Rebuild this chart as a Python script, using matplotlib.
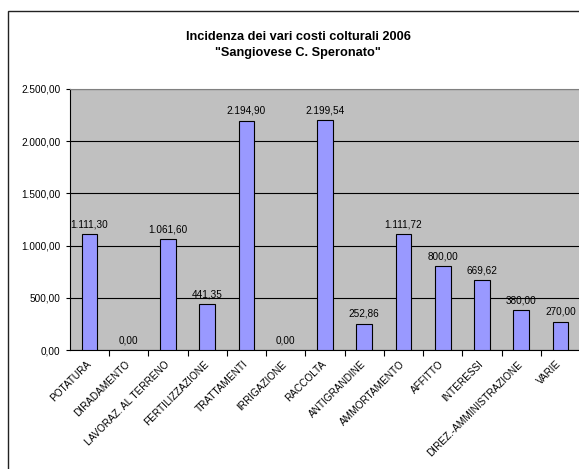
"""Incidenza dei vari costi colturali 2006 - istogramma (matplotlib)"""

import matplotlib

matplotlib.use("Agg")
import matplotlib.pyplot as plt  # noqa: E402
from matplotlib.patches import Rectangle  # noqa: E402

plt.rcParams["font.family"] = ["Liberation Sans", "DejaVu Sans"]

categories = [
    "POTATURA", "DIRADAMENTO", "LAVORAZ. AL TERRENO", "FERTILIZZAZIONE",
    "TRATTAMENTI", "IRRIGAZIONE", "RACCOLTA", "ANTIGRANDINE",
    "AMMORTAMENTO", "AFFITTO", "INTERESSI", "DIREZ.-AMMINISTRAZIONE", "VARIE",
]
costs = [
    1111.30, 0.00, 1061.60, 441.35, 2194.90, 0.00, 2199.54,
    252.86, 1111.72, 800.00, 669.62, 380.00, 270.00,
]
y_ticks = [0, 500, 1000, 1500, 2000, 2500]


def fmt_it(v):
    # 1111.3 -> "1.111,30"
    s = f"{v:,.2f}"
    return s.replace(",", "X").replace(".", ",").replace("X", ".")


fig = plt.figure(figsize=(5.79, 4.69), dpi=100)
ax = fig.add_axes([70 / 579, 1 - 350 / 469, 510 / 579, 261 / 469])

# cornice esterna (tagliata a destra e in basso come nell'originale)
fig.patches.append(Rectangle((8 / 579, -0.1), 1.2, 1.1 - 11 / 469,
                             transform=fig.transFigure, fill=False,
                             edgecolor="#222222", linewidth=1.0))

ax.set_facecolor("#C0C0C0")
x = range(len(categories))
ax.bar(x, costs, width=0.4, color="#9999FF", edgecolor="black", linewidth=0.8,
       zorder=3)

for xi, v in zip(x, costs):
    ax.annotate(fmt_it(v), (xi, v), xytext=(0, 3.5), textcoords="offset points",
                ha="center", va="bottom", fontsize=7.2)

ax.set_xlim(-0.5, len(categories) - 0.5)
ax.set_ylim(0, 2500)
ax.set_yticks(y_ticks)
ax.set_yticklabels([fmt_it(t) for t in y_ticks], fontsize=7.2)
ax.yaxis.grid(True, color="black", linewidth=0.8, zorder=1)
ax.set_axisbelow(True)

ax.set_xticks([i - 0.5 for i in range(1, len(categories))])
ax.set_xticklabels([])
ax.tick_params(axis="x", length=4, width=0.8, direction="out")
ax.tick_params(axis="y", length=3, width=0.8, direction="out", pad=4)

for i, name in enumerate(categories):
    ax.text(i - 0.1, -0.035, name, transform=ax.get_xaxis_transform(),
            rotation=45, rotation_mode="anchor", ha="right", va="top",
            fontsize=7.2)

for side in ("top", "right"):
    ax.spines[side].set_color("#808080")
ax.spines["left"].set_color("black")
ax.spines["bottom"].set_color("black")

fig.text(298 / 579, 1 - 37 / 469, "Incidenza dei vari costi colturali 2006",
         ha="center", va="center", fontsize=9.2, fontweight="bold")
fig.text(298 / 579, 1 - 53 / 469, '"Sangiovese C. Speronato"',
         ha="center", va="center", fontsize=9.2, fontweight="bold")

fig.savefig("out.png", dpi=100)
plt.close(fig)
